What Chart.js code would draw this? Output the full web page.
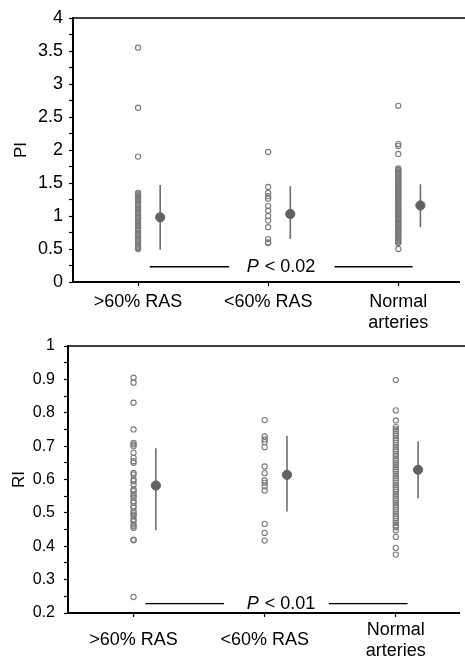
<!DOCTYPE html>
<html>
<head>
<meta charset="utf-8">
<script src="https://cdn.jsdelivr.net/npm/chart.js@4/dist/chart.umd.min.js"></script>
<style>
  html, body { margin: 0; padding: 0; background: #fff; }
  #wrap { position: relative; width: 465px; height: 660px; overflow: hidden; }
  #piBox { position: absolute; left: 0; top: 0; width: 465px; height: 340px; }
  #riBox { position: absolute; left: 0; top: 320px; width: 465px; height: 340px; }
</style>
</head>
<body>
<div id="wrap">
  <div id="piBox"><canvas id="piChart" width="465" height="340"></canvas></div>
  <div id="riBox"><canvas id="riChart" width="465" height="340"></canvas></div>
</div>
<script>
// ---- categories ----
const groups = [">60% RAS", "<60% RAS", ["Normal", "arteries"]];

// ---- pulsatility index (PI), individual arteries ----
const piSevere = [3.55, 2.64, 1.90,
  1.35, 1.34, 1.32, 1.30, 1.29, 1.27, 1.26, 1.24, 1.22, 1.19, 1.17, 1.15, 1.12,
  1.10, 1.09, 1.06, 1.04, 1.01, 0.99, 0.97, 0.96, 0.93, 0.91, 0.89, 0.86, 0.85,
  0.82, 0.80, 0.78, 0.75, 0.73, 0.71, 0.69, 0.66, 0.64, 0.62, 0.60, 0.57, 0.55,
  0.53, 0.51, 0.50];
const piModerate = [1.97, 1.44, 1.35, 1.30, 1.26, 1.15, 1.08, 1.00, 0.93, 0.83, 0.65, 0.60, 0.59];
const piNormal = [2.67, 2.09, 2.06, 1.94,
  1.72, 1.70, 1.69, 1.67, 1.65, 1.63, 1.62, 1.60, 1.58, 1.57, 1.55, 1.53, 1.51,
  1.49, 1.48, 1.46, 1.44, 1.43, 1.41, 1.39, 1.37, 1.36, 1.34, 1.32, 1.31, 1.29,
  1.27, 1.25, 1.24, 1.22, 1.20, 1.18, 1.17, 1.15, 1.13, 1.11, 1.10, 1.08, 1.06,
  1.04, 1.03, 1.01, 0.99, 0.97, 0.96, 0.94, 0.92, 0.90, 0.88, 0.87, 0.85, 0.83,
  0.81, 0.79, 0.78, 0.76, 0.74, 0.72, 0.70, 0.68, 0.66, 0.64, 0.62, 0.60, 0.59,
  0.50];
// group means with spread (low, mean, high)
const piMean = [0.98, 1.03, 1.16];
const piLow  = [0.49, 0.65, 0.83];
const piHigh = [1.47, 1.45, 1.48];

// ---- resistive index (RI), individual arteries ----
const riSevere = [0.905, 0.89, 0.83, 0.75, 0.71, 0.705, 0.70, 0.68, 0.665, 0.655,
  0.65, 0.62, 0.615, 0.60, 0.595, 0.585, 0.57, 0.565, 0.555, 0.55, 0.545, 0.535,
  0.53, 0.52, 0.515, 0.505, 0.50, 0.495, 0.49, 0.48, 0.475, 0.465, 0.46, 0.455,
  0.42, 0.418, 0.248];
const riModerate = [0.778, 0.729, 0.72, 0.712, 0.697, 0.639, 0.619, 0.597, 0.59,
  0.58, 0.567, 0.467, 0.44, 0.417];
const riNormal = [0.898, 0.807, 0.777, 0.757, 0.75, 0.745, 0.738, 0.73, 0.724,
  0.718, 0.71, 0.703, 0.697, 0.69, 0.684, 0.676, 0.67, 0.663, 0.657, 0.65, 0.644,
  0.637, 0.63, 0.624, 0.617, 0.61, 0.604, 0.597, 0.59, 0.583, 0.577, 0.57, 0.563,
  0.556, 0.55, 0.543, 0.537, 0.53, 0.523, 0.517, 0.51, 0.503, 0.497, 0.49, 0.483,
  0.476, 0.47, 0.463, 0.457, 0.447, 0.428, 0.395, 0.375];
const riMean = [0.582, 0.614, 0.629];
const riLow  = [0.449, 0.504, 0.544];
const riHigh = [0.694, 0.731, 0.714];

// ---- significance bars ----
const piSig = { y: 0.23, segments: [[1.09, 1.70], [2.51, 3.11]], labelX: 2.095, text: "0.02" };
const riSig = { y: 0.228, segments: [[1.09, 1.69], [2.49, 3.09]], labelX: 2.12, text: "0.01" };

// ---- axis ticks ----
const piMajorTicks = [0, 0.5, 1, 1.5, 2, 2.5, 3, 3.5, 4];
const piMajorLabels = ["0", "0.5", "1", "1.5", "2", "2.5", "3", "3.5", "4"];
const piMinorTicks = [0.25, 0.75, 1.25, 1.75, 2.25, 2.75, 3.25, 3.75];
const riMajorTicks = [0.2, 0.3, 0.4, 0.5, 0.6, 0.7, 0.8, 0.9, 1];
const riMajorLabels = ["0.2", "0.3", "0.4", "0.5", "0.6", "0.7", "0.8", "0.9", "1"];
const riMinorTicks = [0.25, 0.35, 0.45, 0.55, 0.65, 0.75, 0.85, 0.95];

const FONT = '"Liberation Sans", Arial, sans-serif';
const MEAN_SHIFT = 0.17;
const DOT_COLOR = '#7b7b7b';
const MEAN_COLOR = '#626262';

// frame line across the top of the plot and the italic P label of the significance bar
const frameAndP = {
  id: 'frameAndP',
  afterDraw(chart, args, opts) {
    const { ctx, chartArea, scales } = chart;
    ctx.save();
    ctx.strokeStyle = '#000';
    ctx.lineWidth = 1.5;
    ctx.beginPath();
    ctx.moveTo(chartArea.left, chartArea.top);
    ctx.lineTo(chart.width, chartArea.top);
    ctx.stroke();

    const x = scales.x.getPixelForValue(opts.sig.labelX);
    const y = scales.y.getPixelForValue(opts.sig.y);
    const italic = 'italic ' + opts.size + 'px ' + FONT;
    const normal = opts.size + 'px ' + FONT;
    const rest = ' < ' + opts.sig.text;
    ctx.font = italic;
    const w1 = ctx.measureText('P').width;
    ctx.font = normal;
    const w2 = ctx.measureText(rest).width;
    const start = x - (w1 + w2) / 2;
    ctx.fillStyle = '#000';
    ctx.textBaseline = 'middle';
    ctx.font = italic;
    ctx.fillText('P', start, y);
    ctx.font = normal;
    ctx.fillText(rest, start + w1 + 1, y);
    ctx.restore();
  }
};

function buildDatasets(values, mean, low, high, sig) {
  const ds = [];
  // group means (drawn on top)
  ds.push({
    data: mean.map((m, i) => ({ x: i + 1 + MEAN_SHIFT, y: m })),
    showLine: false, pointRadius: 4.6, pointBackgroundColor: MEAN_COLOR,
    pointBorderColor: MEAN_COLOR, pointBorderWidth: 1
  });
  // spread bars
  mean.forEach((m, i) => {
    ds.push({
      data: [{ x: i + 1 + MEAN_SHIFT, y: low[i] }, { x: i + 1 + MEAN_SHIFT, y: high[i] }],
      showLine: true, borderColor: '#6e6e6e', borderWidth: 1.6, pointRadius: 0
    });
  });
  // significance bar segments
  sig.segments.forEach(s => {
    ds.push({
      data: [{ x: s[0], y: sig.y }, { x: s[1], y: sig.y }],
      showLine: true, borderColor: '#000', borderWidth: 1.4, pointRadius: 0
    });
  });
  // individual arteries
  values.forEach((arr, i) => {
    ds.push({
      data: arr.map(v => ({ x: i + 1, y: v })),
      showLine: false, pointRadius: 2.6, pointBorderWidth: 1.1,
      pointBackgroundColor: 'rgba(255,255,255,0)', pointBorderColor: DOT_COLOR
    });
  });
  return ds;
}

function buildOptions(c) {
  const xFont = { family: FONT, size: c.xFontSize, lineHeight: 1.15 };
  const yFont = { family: FONT, size: c.yFontSize };
  const tFont = { family: FONT, size: c.titleSize };
  return {
    responsive: false,
    animation: false,
    events: [],
    layout: { padding: { left: 0, right: 0, top: c.top, bottom: 0 } },
    plugins: {
      legend: { display: false },
      tooltip: { enabled: false },
      frameAndP: { sig: c.sig, size: c.pSize }
    },
    scales: {
      x: {
        type: 'linear', min: 0.5, max: c.xMax,
        afterBuildTicks: s => { s.ticks = [1, 2, 3].map(v => ({ value: v })); },
        afterFit: s => { s.height = c.xHeight; },
        ticks: {
          callback: v => groups[v - 1], color: '#000', font: xFont,
          padding: c.xPad, maxRotation: 0, autoSkip: false, crossAlign: c.crossAlign
        },
        grid: { drawOnChartArea: false, drawTicks: true, tickLength: 4, tickColor: '#000', tickWidth: 1.2 },
        border: { display: true, color: '#000', width: 2 }
      },
      y: {
        min: c.yMin, max: c.yMax,
        afterBuildTicks: s => {
          s.ticks = c.major.concat(c.minor).sort((a, b) => a - b).map(v => ({ value: v }));
        },
        afterFit: s => { s.width = c.yWidth; },
        ticks: {
          callback: v => {
            const k = c.major.findIndex(m => Math.abs(m - v) < 1e-6);
            return k >= 0 ? c.labels[k] : '';
          },
          color: '#000', font: yFont, padding: c.yPad, autoSkip: false
        },
        title: {
          display: true, text: c.title, color: '#000', font: tFont,
          padding: { top: c.titlePad, bottom: 0 }
        },
        grid: { drawOnChartArea: false, drawTicks: true, tickLength: 4, tickColor: '#000', tickWidth: 1.2 },
        border: { display: true, color: '#000', width: 2 }
      }
    }
  };
}

new Chart(document.getElementById('piChart'), {
  type: 'scatter',
  data: { datasets: buildDatasets([piSevere, piModerate, piNormal], piMean, piLow, piHigh, piSig) },
  options: buildOptions({
    top: 18, xHeight: 58, xMax: 0.5 + 392 / 132, yWidth: 73, yMin: 0, yMax: 4,
    major: piMajorTicks, minor: piMinorTicks, labels: piMajorLabels, title: 'PI',
    xFontSize: 18, yFontSize: 18, titleSize: 17, pSize: 18,
    xPad: 6, yPad: 6, titlePad: 11, crossAlign: 'near', sig: piSig
  }),
  plugins: [frameAndP]
});

new Chart(document.getElementById('riChart'), {
  type: 'scatter',
  data: { datasets: buildDatasets([riSevere, riModerate, riNormal], riMean, riLow, riHigh, riSig) },
  options: buildOptions({
    top: 26, xHeight: 47, xMax: 0.5 + 397 / 133, yWidth: 68, yMin: 0.2, yMax: 1,
    major: riMajorTicks, minor: riMinorTicks, labels: riMajorLabels, title: 'RI',
    xFontSize: 18, yFontSize: 16, titleSize: 17, pSize: 18,
    xPad: 13, yPad: 9, titlePad: 9, crossAlign: 'center', sig: riSig
  }),
  plugins: [frameAndP]
});
</script>
</body>
</html>
